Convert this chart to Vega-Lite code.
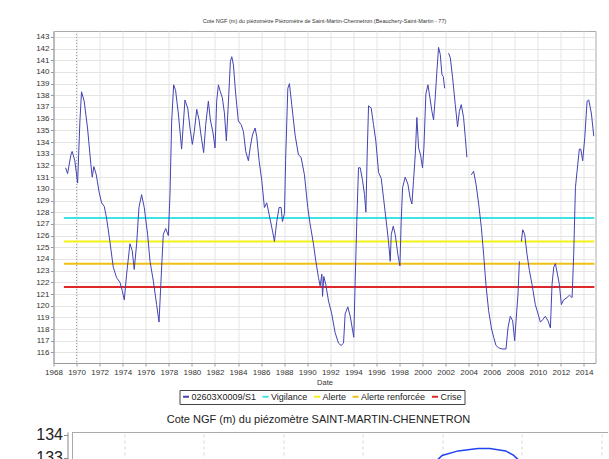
{
  "$schema": "https://vega.github.io/schema/vega-lite/v6.json",
  "background": "white",
  "padding": {"left": 34.5, "top": 18, "right": 0, "bottom": 0},
  "spacing": 8,
  "columns": 1,
  "config": {
    "font": "Liberation Sans",
    "view": {"stroke": "#aaaaaa"},
    "axis": {"domainColor": "#999999", "tickColor": "#999999", "labelColor": "#333333", "gridColor": "#e4e4e4", "minExtent": 0, "labelOverlap": false}
  },
  "resolve": {"legend": {"color": "independent"}, "scale": {"color": "independent", "x": "independent", "y": "independent"}},
  "datasets": {
    "serie": [
      {"annee": 1969.05, "cote": 131.8}, {"annee": 1969.22, "cote": 131.3}, {"annee": 1969.51, "cote": 132.9}, {"annee": 1969.62, "cote": 133.2},
      {"annee": 1969.85, "cote": 132.4}, {"annee": 1970.09, "cote": 130.5}, {"annee": 1970.29, "cote": 135.8}, {"annee": 1970.43, "cote": 138.3},
      {"annee": 1970.66, "cote": 137.5}, {"annee": 1970.95, "cote": 135.2}, {"annee": 1971.24, "cote": 132.1}, {"annee": 1971.36, "cote": 131.0},
      {"annee": 1971.5, "cote": 131.9}, {"annee": 1971.71, "cote": 131.2}, {"annee": 1971.94, "cote": 129.8}, {"annee": 1972.17, "cote": 128.8},
      {"annee": 1972.4, "cote": 128.5}, {"annee": 1972.6, "cote": 127.5}, {"annee": 1972.89, "cote": 125.5}, {"annee": 1973.18, "cote": 123.3},
      {"annee": 1973.47, "cote": 122.4}, {"annee": 1973.76, "cote": 122.0}, {"annee": 1973.96, "cote": 121.3}, {"annee": 1974.14, "cote": 120.5},
      {"annee": 1974.34, "cote": 122.7}, {"annee": 1974.63, "cote": 125.3}, {"annee": 1974.83, "cote": 124.7}, {"annee": 1975.0, "cote": 123.1},
      {"annee": 1975.21, "cote": 125.3}, {"annee": 1975.41, "cote": 128.4}, {"annee": 1975.64, "cote": 129.5}, {"annee": 1975.87, "cote": 128.4},
      {"annee": 1976.16, "cote": 126.1}, {"annee": 1976.37, "cote": 123.8}, {"annee": 1976.66, "cote": 122.1}, {"annee": 1976.94, "cote": 120.1},
      {"annee": 1977.15, "cote": 118.6}, {"annee": 1977.32, "cote": 122.1}, {"annee": 1977.52, "cote": 126.1}, {"annee": 1977.73, "cote": 126.6},
      {"annee": 1977.96, "cote": 126.0}, {"annee": 1978.1, "cote": 129.5}, {"annee": 1978.25, "cote": 135.8}, {"annee": 1978.42, "cote": 138.9},
      {"annee": 1978.59, "cote": 138.4}, {"annee": 1978.83, "cote": 136.4}, {"annee": 1979.11, "cote": 133.4}, {"annee": 1979.4, "cote": 137.6},
      {"annee": 1979.64, "cote": 136.9}, {"annee": 1979.84, "cote": 135.2}, {"annee": 1980.04, "cote": 133.8}, {"annee": 1980.21, "cote": 134.9},
      {"annee": 1980.42, "cote": 136.8}, {"annee": 1980.62, "cote": 135.9}, {"annee": 1980.79, "cote": 134.6}, {"annee": 1981.02, "cote": 133.1},
      {"annee": 1981.2, "cote": 135.5}, {"annee": 1981.43, "cote": 137.5}, {"annee": 1981.6, "cote": 135.9}, {"annee": 1981.83, "cote": 134.8},
      {"annee": 1982.01, "cote": 133.5}, {"annee": 1982.15, "cote": 137.5}, {"annee": 1982.3, "cote": 138.9}, {"annee": 1982.47, "cote": 138.3},
      {"annee": 1982.64, "cote": 137.8}, {"annee": 1982.82, "cote": 136.5}, {"annee": 1982.99, "cote": 134.1}, {"annee": 1983.17, "cote": 137.5},
      {"annee": 1983.34, "cote": 140.9}, {"annee": 1983.46, "cote": 141.3}, {"annee": 1983.6, "cote": 140.6}, {"annee": 1983.8, "cote": 138.1},
      {"annee": 1984.03, "cote": 135.8}, {"annee": 1984.27, "cote": 135.5}, {"annee": 1984.47, "cote": 134.9}, {"annee": 1984.67, "cote": 133.2},
      {"annee": 1984.9, "cote": 132.4}, {"annee": 1985.05, "cote": 133.5}, {"annee": 1985.25, "cote": 134.6}, {"annee": 1985.48, "cote": 135.2},
      {"annee": 1985.62, "cote": 134.5}, {"annee": 1985.83, "cote": 132.4}, {"annee": 1986.06, "cote": 130.7}, {"annee": 1986.29, "cote": 128.4},
      {"annee": 1986.49, "cote": 128.8}, {"annee": 1986.7, "cote": 127.8}, {"annee": 1986.99, "cote": 126.4}, {"annee": 1987.16, "cote": 125.5},
      {"annee": 1987.36, "cote": 127.2}, {"annee": 1987.56, "cote": 128.4}, {"annee": 1987.74, "cote": 128.4}, {"annee": 1987.85, "cote": 127.2},
      {"annee": 1988.03, "cote": 127.9}, {"annee": 1988.14, "cote": 132.9}, {"annee": 1988.32, "cote": 138.6}, {"annee": 1988.46, "cote": 139.0},
      {"annee": 1988.66, "cote": 137.2}, {"annee": 1988.95, "cote": 134.6}, {"annee": 1989.24, "cote": 132.9}, {"annee": 1989.47, "cote": 132.7},
      {"annee": 1989.76, "cote": 131.2}, {"annee": 1990.05, "cote": 128.4}, {"annee": 1990.25, "cote": 127.0}, {"annee": 1990.54, "cote": 125.3},
      {"annee": 1990.75, "cote": 123.8}, {"annee": 1990.98, "cote": 122.4}, {"annee": 1991.12, "cote": 121.7}, {"annee": 1991.27, "cote": 122.7},
      {"annee": 1991.33, "cote": 120.8}, {"annee": 1991.44, "cote": 122.5}, {"annee": 1991.61, "cote": 121.8}, {"annee": 1991.85, "cote": 120.4},
      {"annee": 1992.13, "cote": 119.3}, {"annee": 1992.42, "cote": 117.7}, {"annee": 1992.71, "cote": 116.8}, {"annee": 1992.94, "cote": 116.6},
      {"annee": 1993.15, "cote": 116.8}, {"annee": 1993.29, "cote": 119.3}, {"annee": 1993.52, "cote": 119.9}, {"annee": 1993.73, "cote": 119.1},
      {"annee": 1994.04, "cote": 117.3}, {"annee": 1994.16, "cote": 122.1}, {"annee": 1994.3, "cote": 127.2}, {"annee": 1994.45, "cote": 131.8},
      {"annee": 1994.6, "cote": 131.8}, {"annee": 1994.8, "cote": 130.7}, {"annee": 1994.97, "cote": 129.5}, {"annee": 1995.09, "cote": 128.0},
      {"annee": 1995.2, "cote": 132.9}, {"annee": 1995.32, "cote": 137.1}, {"annee": 1995.55, "cote": 136.9}, {"annee": 1995.75, "cote": 135.5},
      {"annee": 1995.95, "cote": 134.1}, {"annee": 1996.19, "cote": 131.4}, {"annee": 1996.42, "cote": 130.9}, {"annee": 1996.62, "cote": 129.2},
      {"annee": 1996.82, "cote": 127.5}, {"annee": 1997.05, "cote": 125.5}, {"annee": 1997.2, "cote": 123.8}, {"annee": 1997.29, "cote": 126.1},
      {"annee": 1997.46, "cote": 126.8}, {"annee": 1997.63, "cote": 126.1}, {"annee": 1997.86, "cote": 124.4}, {"annee": 1998.04, "cote": 123.4},
      {"annee": 1998.15, "cote": 127.2}, {"annee": 1998.27, "cote": 130.1}, {"annee": 1998.5, "cote": 131.0}, {"annee": 1998.73, "cote": 130.4},
      {"annee": 1998.93, "cote": 129.2}, {"annee": 1999.08, "cote": 128.7}, {"annee": 1999.22, "cote": 130.7}, {"annee": 1999.37, "cote": 132.9},
      {"annee": 1999.51, "cote": 136.1}, {"annee": 1999.66, "cote": 133.5}, {"annee": 1999.83, "cote": 132.9}, {"annee": 2000.0, "cote": 131.8},
      {"annee": 2000.12, "cote": 133.5}, {"annee": 2000.29, "cote": 138.1}, {"annee": 2000.47, "cote": 138.9}, {"annee": 2000.64, "cote": 137.8},
      {"annee": 2000.82, "cote": 136.6}, {"annee": 2000.96, "cote": 135.9}, {"annee": 2001.1, "cote": 137.8}, {"annee": 2001.25, "cote": 140.1},
      {"annee": 2001.39, "cote": 142.1}, {"annee": 2001.54, "cote": 141.5}, {"annee": 2001.68, "cote": 139.8}, {"annee": 2001.8, "cote": 139.6},
      {"annee": 2001.92, "cote": 138.6}, {"annee": 2002.1, "cote": null}, {"annee": 2002.26, "cote": 141.6}, {"annee": 2002.41, "cote": 141.2},
      {"annee": 2002.61, "cote": 139.5}, {"annee": 2002.84, "cote": 137.2}, {"annee": 2003.04, "cote": 135.3}, {"annee": 2003.19, "cote": 136.6},
      {"annee": 2003.36, "cote": 137.2}, {"annee": 2003.56, "cote": 136.1}, {"annee": 2003.71, "cote": 134.4}, {"annee": 2003.85, "cote": 132.7},
      {"annee": 2004.0, "cote": null}, {"annee": 2004.23, "cote": 131.2}, {"annee": 2004.43, "cote": 131.5}, {"annee": 2004.64, "cote": 130.4},
      {"annee": 2004.87, "cote": 128.7}, {"annee": 2005.1, "cote": 126.7}, {"annee": 2005.3, "cote": 124.4}, {"annee": 2005.5, "cote": 121.8},
      {"annee": 2005.73, "cote": 119.6}, {"annee": 2005.97, "cote": 118.1}, {"annee": 2006.17, "cote": 117.3}, {"annee": 2006.37, "cote": 116.6},
      {"annee": 2006.6, "cote": 116.4}, {"annee": 2006.89, "cote": 116.3}, {"annee": 2007.24, "cote": 116.3}, {"annee": 2007.41, "cote": 118.1},
      {"annee": 2007.61, "cote": 119.1}, {"annee": 2007.82, "cote": 118.7}, {"annee": 2007.99, "cote": 117.0}, {"annee": 2008.11, "cote": 118.7},
      {"annee": 2008.28, "cote": 121.0}, {"annee": 2008.4, "cote": 123.8}, {"annee": 2008.5, "cote": null}, {"annee": 2008.57, "cote": 125.5},
      {"annee": 2008.69, "cote": 126.5}, {"annee": 2008.86, "cote": 126.1}, {"annee": 2009.06, "cote": 124.4}, {"annee": 2009.27, "cote": 123.0},
      {"annee": 2009.5, "cote": 121.8}, {"annee": 2009.78, "cote": 120.1}, {"annee": 2010.02, "cote": 119.3}, {"annee": 2010.22, "cote": 118.6},
      {"annee": 2010.42, "cote": 118.8}, {"annee": 2010.65, "cote": 119.1}, {"annee": 2010.89, "cote": 118.7}, {"annee": 2011.09, "cote": 118.1},
      {"annee": 2011.23, "cote": 121.8}, {"annee": 2011.38, "cote": 123.3}, {"annee": 2011.52, "cote": 123.6}, {"annee": 2011.7, "cote": 122.7},
      {"annee": 2011.87, "cote": 121.8}, {"annee": 2012.04, "cote": 120.1}, {"annee": 2012.24, "cote": 120.5}, {"annee": 2012.53, "cote": 120.7},
      {"annee": 2012.74, "cote": 120.9}, {"annee": 2012.97, "cote": 120.7}, {"annee": 2013.11, "cote": 124.4}, {"annee": 2013.26, "cote": 130.1},
      {"annee": 2013.4, "cote": 131.5}, {"annee": 2013.6, "cote": 133.4}, {"annee": 2013.72, "cote": 133.4}, {"annee": 2013.89, "cote": 132.4},
      {"annee": 2014.07, "cote": 134.4}, {"annee": 2014.27, "cote": 137.5}, {"annee": 2014.42, "cote": 137.6}, {"annee": 2014.65, "cote": 136.4},
      {"annee": 2014.85, "cote": 134.5}
    ],
    "seuils": [
      {"seuil": "Vigilance", "cote": 127.5, "annee": 1968.9, "fin": 2014.9},
      {"seuil": "Alerte", "cote": 125.5, "annee": 1968.9, "fin": 2014.9},
      {"seuil": "Alerte renforcée", "cote": 123.6, "annee": 1968.9, "fin": 2014.9},
      {"seuil": "Crise", "cote": 121.6, "annee": 1968.9, "fin": 2014.9}
    ],
    "recent": [
      {"annee": 2018.85, "cote": 132.6}, {"annee": 2019.0, "cote": 133.1}, {"annee": 2019.2, "cote": 133.3},
      {"annee": 2019.45, "cote": 133.4}, {"annee": 2019.6, "cote": 133.4}, {"annee": 2019.8, "cote": 133.3},
      {"annee": 2019.9, "cote": 133.1}, {"annee": 2020.05, "cote": 132.6}
    ]
  },
  "concat": [
    {
      "width": 542,
      "height": 332,
      "title": {"text": "Cote NGF (m) du piézomètre Piézomètre de Saint-Martin-Chennetron (Beauchery-Saint-Martin - 77)", "fontSize": 5.5, "fontWeight": "normal", "color": "#333333", "offset": 6, "anchor": "middle"},
      "encoding": {
        "x": {
          "field": "annee", "type": "quantitative", "title": "Date",
          "scale": {"domain": [1968, 2015], "nice": false, "zero": false},
          "axis": {"values": [1968, 1970, 1972, 1974, 1976, 1978, 1980, 1982, 1984, 1986, 1988, 1990, 1992, 1994, 1996, 1998, 2000, 2002, 2004, 2006, 2008, 2010, 2012, 2014], "format": "d", "labelFontSize": 8, "tickSize": 3, "labelPadding": 2, "titleFontSize": 7.5, "titleFontWeight": "normal", "titleColor": "#333333", "titlePadding": 2, "grid": true, "labelFlush": false, "labelOverlap": false}
        }
      },
      "layer": [
        {
          "data": {"values": [{"annee": 1970}]},
          "mark": {"type": "rule", "color": "#9a9a9a", "strokeDash": [1, 2]},
          "encoding": {}
        },
        {
          "data": {"name": "seuils"},
          "mark": {"type": "rule", "strokeWidth": 2},
          "encoding": {
            "x2": {"field": "fin"},
            "y": {
              "field": "cote", "type": "quantitative", "title": null,
              "scale": {"domain": [115.1, 143.5], "nice": false, "zero": false},
              "axis": {"values": [116, 117, 118, 119, 120, 121, 122, 123, 124, 125, 126, 127, 128, 129, 130, 131, 132, 133, 134, 135, 136, 137, 138, 139, 140, 141, 142, 143], "labelFontSize": 8, "tickSize": 3, "labelPadding": 1.5, "grid": true, "labelOverlap": false}
            },
            "color": {
              "field": "seuil", "type": "nominal", "title": null,
              "scale": {"domain": ["02603X0009/S1", "Vigilance", "Alerte", "Alerte renforcée", "Crise"], "range": ["#4343b3", "#3fe3e3", "#f2f214", "#f0c010", "#e02828"]},
              "legend": {"orient": "none", "legendX": 126, "legendY": 359, "direction": "horizontal", "title": null, "symbolType": "stroke", "symbolSize": 36, "symbolStrokeWidth": 2, "labelFontSize": 9, "labelOffset": 1, "columnPadding": 1.5, "padding": 2, "strokeColor": "#444444", "labelColor": "#222222", "labelLimit": 0}
            }
          }
        },
        {
          "data": {"name": "serie"},
          "mark": {"type": "line", "strokeWidth": 1, "invalid": "break-paths-show-domains"},
          "encoding": {
            "y": {
              "field": "cote", "type": "quantitative", "title": null,
              "scale": {"domain": [115.1, 143.5], "nice": false, "zero": false},
              "axis": {"values": [116, 117, 118, 119, 120, 121, 122, 123, 124, 125, 126, 127, 128, 129, 130, 131, 132, 133, 134, 135, 136, 137, 138, 139, 140, 141, 142, 143], "labelFontSize": 8, "tickSize": 3, "labelPadding": 1.5, "grid": true, "labelOverlap": false}
            },
            "color": {
              "datum": "02603X0009/S1", "title": null,
              "scale": {"domain": ["02603X0009/S1", "Vigilance", "Alerte", "Alerte renforcée", "Crise"], "range": ["#4343b3", "#3fe3e3", "#f2f214", "#f0c010", "#e02828"]},
              "legend": {"orient": "none", "legendX": 126, "legendY": 359, "direction": "horizontal", "title": null, "symbolType": "stroke", "symbolSize": 36, "symbolStrokeWidth": 2, "labelFontSize": 9, "labelOffset": 1, "columnPadding": 1.5, "padding": 2, "strokeColor": "#444444", "labelColor": "#222222", "labelLimit": 0}
            }
          }
        }
      ]
    },
    {
      "width": 554,
      "height": 299,
      "view": {"stroke": null},
      "title": {"text": "Cote NGF (m) du piézomètre SAINT-MARTIN-CHENNETRON", "fontSize": 11, "fontWeight": "normal", "color": "#222222", "offset": 2, "anchor": "middle", "dx": -12},
      "encoding": {
        "x": {
          "field": "annee", "type": "quantitative", "title": null,
          "scale": {"domain": [2014.35, 2021.08], "nice": false, "zero": false, "range": [19, 554]},
          "axis": {"orient": "top", "values": [2015, 2016, 2017, 2018, 2019, 2020, 2021], "format": "d", "grid": true, "gridDash": [3, 3], "gridColor": "#d8d8d8", "domain": true, "domainColor": "#aaaaaa", "ticks": false, "labels": false}
        }
      },
      "layer": [
        {
          "data": {"values": [{"annee": 2014.35}]},
          "mark": {"type": "rule", "color": "#aaaaaa"},
          "encoding": {}
        },
        {
          "data": {"name": "recent"},
          "mark": {"type": "line", "color": "#2244ee", "strokeWidth": 1.5},
          "encoding": {
            "y": {
              "field": "cote", "type": "quantitative", "title": null,
              "scale": {"domain": [121, 134.13], "nice": false, "zero": false},
              "axis": {"values": [121, 122, 123, 124, 125, 126, 127, 128, 129, 130, 131, 132, 133, 134], "labelFontSize": 16, "labelColor": "#222222", "offset": -14, "tickSize": 4, "labelPadding": 1, "grid": false, "domainColor": "#888888", "tickColor": "#888888"}
            }
          }
        }
      ]
    }
  ]
}
